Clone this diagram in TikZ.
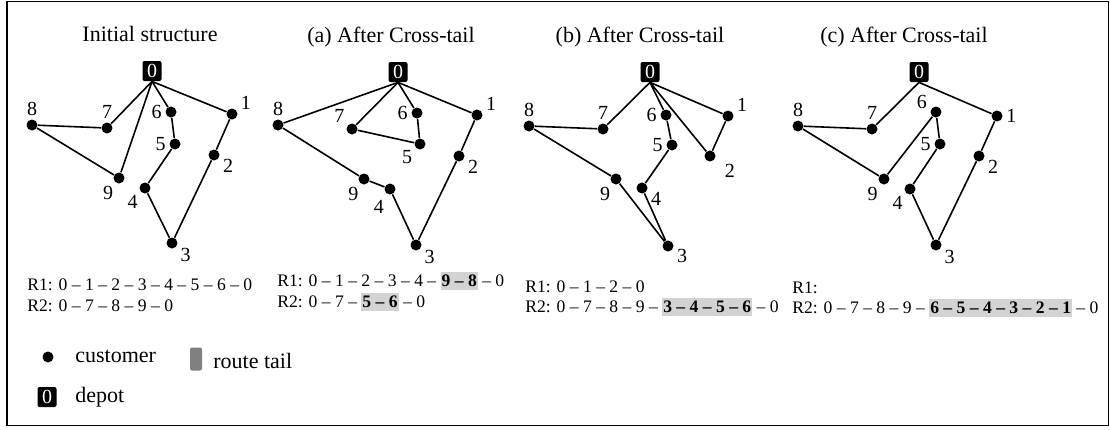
\documentclass[tikz,border=0pt]{standalone}
\usepackage{fontspec}
\setmainfont{Liberation Serif}
\usepackage{xcolor}
\usepackage{tikz}
\definecolor{hlgray}{HTML}{D3D3D3}
\definecolor{tailgray}{HTML}{808080}
\tikzstyle{cust} = [circle, fill=black, inner sep=0pt, minimum size=5.5pt]
\tikzstyle{depot} = [rectangle, rounded corners=1pt, fill=black, text=white, inner sep=0pt, minimum width=9.5pt, minimum height=10pt, font=\fontsize{10}{10}\selectfont]
\tikzstyle{route} = [black, line width=0.8pt]
\tikzstyle{rtext} = [anchor=west, inner sep=0pt, font=\fontsize{8.8}{11}\selectfont]
\tikzstyle{title} = [inner sep=0pt, font=\fontsize{11}{13}\selectfont]
\newcommand{\hl}[1]{{\setlength{\fboxsep}{0.5pt}\colorbox{hlgray}{\textbf{#1}\rule[-1.3pt]{0pt}{8pt}}}}

\begin{document}
\begin{tikzpicture}[x=0.5pt, y=-0.5pt, every label/.style={inner sep=1pt, font=\fontsize{10}{10}\selectfont}, label distance=0.5pt]
	\useasboundingbox (0,0) rectangle (1110,429);
	\draw[line width=0.8pt] (7,1.5) rectangle (1108.5,425.5);

	% initial structure
	\node [title] (ti) at (150,34) {Initial structure};
	\node [depot] (i0) at (152,71) {0};
	\node [cust, label=20:1] (i1) at (232,114) {};
	\node [cust, label=-15:2] (i2) at (214,155) {};
	\node [cust, label=-27:3] (i3) at (172,243) {};
	\node [cust, label=225:4] (i4) at (145,188) {};
	\node [cust, label=left:5] (i5) at (175,144) {};
	\node [cust, label=left:6] (i6) at (171,112) {};
	\node [cust, label=above:7] (i7) at (107,128) {};
	\node [cust, label=above:8] (i8) at (32,125) {};
	\node [cust, label=240:9] (i9) at (119,178) {};
	\draw [route] (i0.south) -- (i1) -- (i2) -- (i3) -- (i4) -- (i5) -- (i6) -- (i0.south);
	\draw [route] (i0.south) -- (i7) -- (i8) -- (i9) -- (i0.south);
	\node [rtext] (r1i) at (27,285) {R1: 0 -- 1 -- 2 -- 3 -- 4 -- 5 -- 6 -- 0};
	\node [rtext] (r2i) at (27,306) {R2: 0 -- 7 -- 8 -- 9 -- 0};

	% (a)
	\node [title] (ta) at (391,37) {(a) After Cross-tail};
	\node [depot] (a0) at (398,72) {0};
	\node [cust, label=17:1] (a1) at (477,115) {};
	\node [cust, label=-17:2] (a2) at (459,156) {};
	\node [cust, label=-24:3] (a3) at (416,245) {};
	\node [cust, label={[label distance=2pt]248:4}] (a4) at (390,189) {};
	\node [cust, label=216:5] (a5) at (420,144) {};
	\node [cust, label=left:6] (a6) at (417,113) {};
	\node [cust, label=140:7] (a7) at (352,129) {};
	\node [cust, label=above:8] (a8) at (278,125) {};
	\node [cust, label=242:9] (a9) at (364,179) {};
	\draw [route] (a0.south) -- (a1) -- (a2) -- (a3) -- (a4) -- (a9) -- (a8) -- (a0.south);
	\draw [route] (a0.south) -- (a7) -- (a5) -- (a6) -- (a0.south);
	\node [rtext] (r1a) at (277,281) {R1: 0 -- 1 -- 2 -- 3 -- 4 -- \hl{9 -- 8} -- 0};
	\node [rtext] (r2a) at (277,302) {R2: 0 -- 7 -- \hl{5 -- 6} -- 0};

	% (b)
	\node [title] (tb) at (640,37) {(b) After Cross-tail};
	\node [depot] (b0) at (650,72) {0};
	\node [cust, label=17:1] (b1) at (728,116) {};
	\node [cust, label={[label distance=4pt]-27:2}] (b2) at (710,156) {};
	\node [cust, label=-8:3] (b3) at (668,246) {};
	\node [cust, label=-15:4] (b4) at (642,188) {};
	\node [cust, label=left:5] (b5) at (672,145) {};
	\node [cust, label=left:6] (b6) at (666,115) {};
	\node [cust, label=above:7] (b7) at (603,129) {};
	\node [cust, label=above:8] (b8) at (529,126) {};
	\node [cust, label=240:9] (b9) at (616,179) {};
	\draw [route] (b0.south) -- (b1) -- (b2) -- (b0.south);
	\draw [route] (b0.south) -- (b7) -- (b8) -- (b9) -- (b3) -- (b4) -- (b5) -- (b6) -- (b0.south);
	\node [rtext] (r1b) at (525,287) {R1: 0 -- 1 -- 2 -- 0};
	\node [rtext] (r2b) at (525,307) {R2: 0 -- 7 -- 8 -- 9 -- \hl{3 -- 4 -- 5 -- 6} -- 0};

	% (c)
	\node [title] (tc) at (904,37) {(c) After Cross-tail};
	\node [depot] (c0) at (919,72) {0};
	\node [cust, label=right:1] (c1) at (997,116) {};
	\node [cust, label=-12:2] (c2) at (979,156) {};
	\node [cust, label=-24:3] (c3) at (936,245) {};
	\node [cust, label=225:4] (c4) at (910,189) {};
	\node [cust, label=left:5] (c5) at (940,144) {};
	\node [cust, label=173:6] (c6) at (936,112) {};
	\node [cust, label=above:7] (c7) at (872,129) {};
	\node [cust, label=above:8] (c8) at (798,126) {};
	\node [cust, label=234:9] (c9) at (884,179) {};
	\draw [route] (c0.south) -- (c7) -- (c8) -- (c9) -- (c6) -- (c5) -- (c4) -- (c3) -- (c2) -- (c1) -- (c0.south);
	\node [rtext] (r1c) at (792,288) {R1:};
	\node [rtext] (r2c) at (792,308) {R2: 0 -- 7 -- 8 -- 9 -- \hl{6 -- 5 -- 4 -- 3 -- 2 -- 1} -- 0};

	% legend
	\node [cust] (lcust) at (48,357) {};
	\node [title, anchor=west] (lcusttxt) at (75,356) {customer};
	\node [rectangle, rounded corners=1pt, fill=tailgray, minimum width=6pt, minimum height=11.5pt, inner sep=0pt] (ltail) at (196,359) {};
	\node [title, anchor=west] (ltailtxt) at (213,361) {route tail};
	\node [depot] (ldepot) at (47,397) {0};
	\node [title, anchor=west] (ldepottxt) at (75,397) {depot};
\end{tikzpicture}
\end{document}
